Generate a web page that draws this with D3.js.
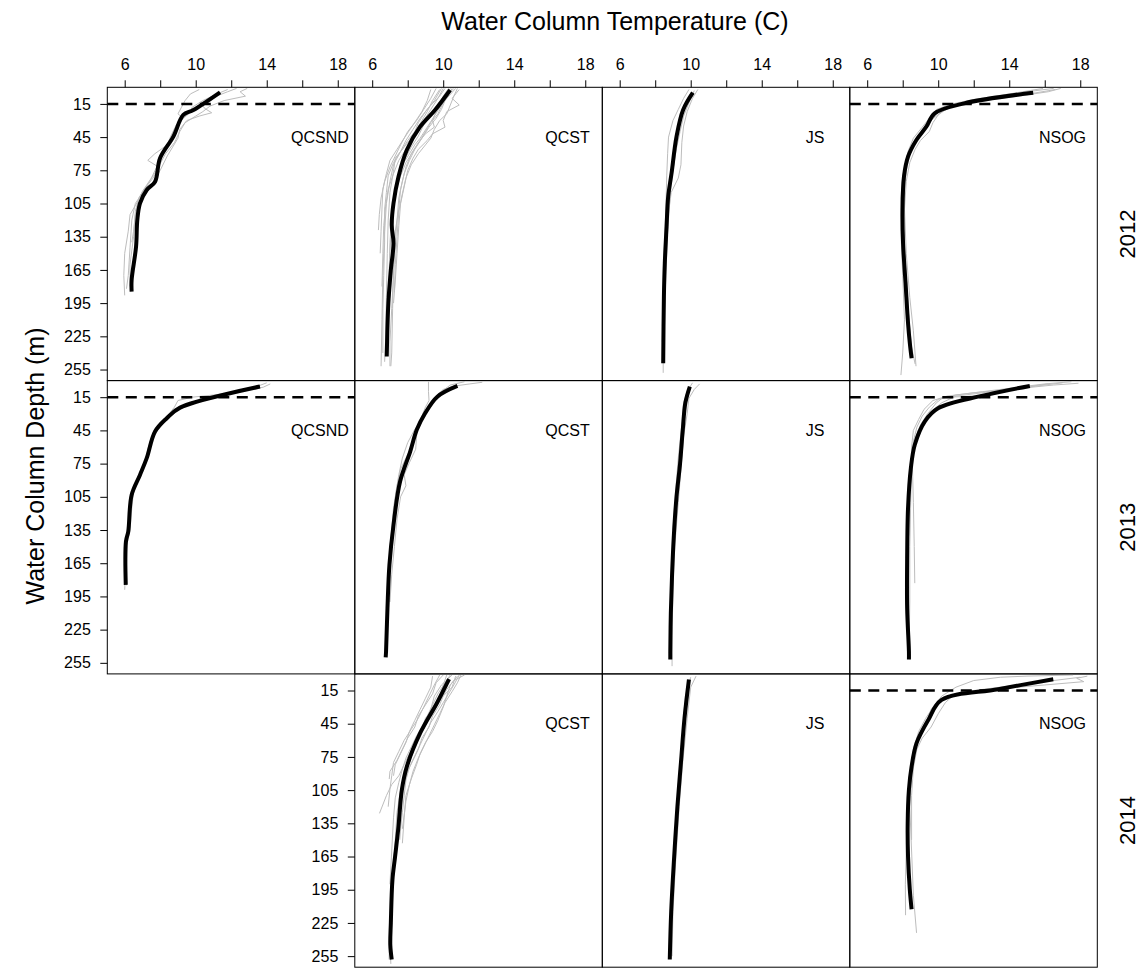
<!DOCTYPE html>
<html>
<head>
<meta charset="utf-8">
<script src="https://cdn.jsdelivr.net/npm/d3@7"></script>
<style>
body { margin: 0; background: #fff; }
svg { display: block; font-family: "Liberation Sans", Arial, Helvetica, sans-serif; }
</style>
</head>
<body>
<script>
var years = ["2012", "2013", "2014"];
var sites = ["QCSND", "QCST", "JS", "NSOG"];
var tempTicks = [6, 8, 10, 12, 14, 16, 18];
var tempLabels = [6, 10, 14, 18];
var depthTicks = [15, 45, 75, 105, 135, 165, 195, 225, 255];
var refDepth = 15;
var refPanels = ["2012 QCSND", "2012 NSOG", "2013 QCSND", "2013 NSOG", "2014 NSOG"];

// [temperature, depth]
var mean2012QCSND = [[11.37, 4.5], [9.87, 20.5], [9.3, 25], [8.74, 44.6], [7.99, 64.1], [7.71, 85.3], [7.24, 92.8], [6.86, 104.8], [6.71, 119.9], [6.64, 144], [6.39, 174.1], [6.39, 184.6]];
var casts2012QCSND = [
  [[12.9, 1], [12.5, 4], [12.8, 8], [11.6, 12], [10.8, 17], [10.4, 22], [10.0, 26], [9.4, 32], [9.1, 40], [8.8, 50], [8.3, 60], [7.9, 72], [7.4, 85], [7.0, 95], [6.6, 105], [6.4, 120], [6.3, 145], [6.2, 170], [6.1, 182]],
  [[10.2, 2], [9.7, 6], [9.4, 12], [9.2, 18], [9.0, 24], [9.3, 28], [8.9, 34], [8.6, 44], [8.4, 52], [7.7, 60], [7.3, 66], [7.9, 72], [7.6, 82], [7.1, 92], [6.8, 100], [6.6, 112], [6.5, 135], [6.3, 160], [6.3, 180]],
  [[12.3, 1], [11.8, 4], [11.0, 9], [10.3, 14], [10.5, 19], [10.9, 23], [10.2, 26], [9.5, 30], [9.1, 38], [9.0, 46], [8.7, 54], [8.4, 62], [8.0, 75], [7.6, 86], [7.2, 96], [6.8, 104], [6.6, 115], [6.5, 130], [6.4, 140]],
  [[11.8, 2], [11.2, 6], [10.4, 12], [9.8, 18], [9.6, 24], [9.0, 32], [8.7, 42], [8.5, 52], [8.1, 62], [7.8, 72], [7.5, 82], [7.0, 94], [6.7, 104], [6.3, 115], [6.2, 130], [6.0, 150], [5.95, 170], [6.0, 188]]
];

var mean2012QCST = [[10.39, 2.4], [9.54, 20.5], [8.7, 35.6], [7.95, 56.6], [7.48, 80.8], [7.2, 104.8], [7.1, 124.4], [7.2, 140.9], [7.05, 165], [6.91, 195], [6.82, 243.3]];
var casts2012QCST = [
  [[10.7, 1], [10.2, 10], [9.6, 22], [9.4, 30], [9.5, 36], [9.0, 42], [8.6, 50], [8.2, 60], [7.9, 72], [7.7, 85], [7.5, 100], [7.4, 120], [7.3, 140], [7.2, 170], [7.1, 200], [7.0, 230], [7.0, 252]],
  [[9.6, 1], [9.3, 10], [8.9, 20], [8.5, 30], [8.0, 40], [7.6, 52], [7.3, 62], [7.0, 72], [6.7, 85], [6.5, 100], [6.4, 115], [6.35, 129]],
  [[10.1, 1], [9.8, 8], [9.2, 18], [8.7, 28], [8.3, 38], [7.9, 48], [7.6, 58], [7.2, 70], [7.0, 85], [6.8, 105], [6.7, 130], [6.6, 170], [6.55, 210], [6.5, 252]],
  [[10.9, 2], [10.5, 10], [10.9, 16], [10.2, 22], [10.0, 30], [10.1, 36], [9.4, 42], [9.1, 48], [8.6, 56], [8.3, 64], [8.0, 75], [7.8, 90], [7.6, 105], [7.5, 125], [7.4, 150], [7.3, 175], [7.2, 195]],
  [[9.9, 1], [9.5, 12], [9.0, 22], [8.6, 32], [8.4, 40], [8.0, 48], [7.7, 56], [7.3, 64], [7.2, 76], [7.0, 95], [6.9, 120], [6.85, 150], [6.8, 190], [6.75, 230], [6.7, 248]],
  [[10.3, 1], [10.0, 8], [9.7, 18], [9.3, 26], [8.9, 34], [8.6, 44], [8.2, 54], [7.8, 66], [7.5, 80], [7.3, 95], [7.2, 112], [7.15, 135], [7.1, 160], [7.0, 190]],
  [[9.3, 2], [9.1, 12], [8.8, 22], [8.3, 34], [7.8, 46], [7.4, 56], [7.0, 66], [6.8, 78], [6.6, 92], [6.55, 110], [6.5, 130], [6.45, 150]],
  [[10.5, 1], [10.1, 12], [9.9, 20], [9.6, 28], [9.2, 36], [8.8, 46], [8.4, 56], [8.1, 66], [7.8, 78], [7.6, 92], [7.5, 110], [7.3, 130], [7.2, 160], [7.15, 200], [7.1, 240], [7.05, 252]],
  [[10.6, 1], [10.3, 6], [10.0, 14], [9.7, 24], [9.3, 32], [9.0, 40], [8.7, 48], [8.3, 58], [7.9, 68], [7.6, 80], [7.3, 95], [7.1, 115], [7.0, 140], [6.95, 170], [6.9, 200], [6.85, 225]],
  [[10.0, 1], [9.7, 10], [9.3, 20], [8.9, 30], [8.6, 38], [8.3, 46], [7.9, 56], [7.5, 66], [7.2, 78], [6.9, 92], [6.75, 108], [6.65, 125], [6.6, 150], [6.55, 180]],
  [[10.8, 1], [10.6, 8], [10.4, 16], [10.2, 24], [9.8, 30], [9.5, 38], [9.3, 46], [9.0, 52], [8.6, 60], [8.2, 70], [7.9, 82], [7.7, 96], [7.5, 112], [7.4, 135], [7.3, 160], [7.25, 185]],
  [[9.8, 2], [9.4, 12], [9.1, 22], [8.8, 30], [8.5, 38], [8.1, 48], [7.6, 58], [7.2, 68], [6.9, 80], [6.8, 95], [6.7, 110], [6.7, 140], [6.65, 170], [6.6, 200], [6.6, 240]],
  [[10.4, 1], [10.2, 6], [9.9, 16], [9.5, 26], [9.1, 36], [8.7, 46], [8.4, 52], [8.1, 60], [7.7, 70], [7.4, 84], [7.2, 100], [7.1, 120], [7.0, 150], [6.95, 180], [6.9, 210]]
];

var mean2012JS = [[10.12, 4.9], [9.57, 20.5], [9.2, 44.6], [8.92, 77.7], [8.73, 98.8], [8.64, 125.9], [8.54, 159], [8.49, 189], [8.45, 249.3]];
var casts2012JS = [
  [[10.4, 2], [10.1, 10], [9.8, 22], [9.6, 35], [9.5, 50], [9.45, 70], [9.3, 82], [8.9, 95], [8.7, 120], [8.6, 160], [8.5, 200], [8.45, 240], [8.45, 258]],
  [[9.9, 2], [9.6, 10], [9.3, 20], [9.0, 30], [8.75, 45], [8.7, 60], [8.65, 80], [8.6, 110], [8.5, 150], [8.45, 190], [8.4, 230]],
  [[10.2, 3], [9.9, 14], [9.6, 26], [9.4, 40], [9.2, 55], [9.0, 75], [8.85, 95], [8.7, 130], [8.6, 170], [8.5, 210], [8.48, 245]]
];

var mean2012NSOG = [[15.35, 4.9], [11.46, 14.5], [9.8, 23.5], [9.33, 35.6], [8.77, 47.6], [8.3, 62.7], [8.07, 80.8], [7.99, 110.8], [8.02, 140.9], [8.16, 177], [8.3, 213], [8.4, 231], [8.5, 244.8]];
var casts2012NSOG = [
  [[16.9, 1], [16.2, 4], [14.5, 8], [12.5, 12], [11.0, 16], [10.2, 22], [9.6, 30], [9.2, 38], [8.8, 46], [8.5, 55], [8.2, 66], [8.0, 80], [7.9, 100], [7.9, 130], [8.0, 170], [8.1, 210], [8.0, 240], [7.9, 260]],
  [[16.6, 2], [15.5, 5], [13.5, 9], [11.8, 13], [10.6, 18], [10.0, 25], [9.7, 32], [9.5, 40], [9.0, 48], [8.7, 56], [8.4, 68], [8.2, 85], [8.1, 110], [8.2, 150], [8.4, 190], [8.6, 220], [8.75, 252]],
  [[15.9, 1], [14.0, 6], [12.0, 11], [10.8, 15], [9.9, 20], [9.5, 28], [9.1, 36], [8.6, 46], [8.3, 58], [8.1, 72], [8.0, 95], [8.05, 130], [8.2, 170], [8.35, 210], [8.5, 240]],
  [[16.5, 1], [15.0, 4], [13.0, 10], [11.5, 14], [10.5, 18], [9.9, 24], [9.4, 32], [9.0, 42], [8.7, 50], [8.4, 60], [8.2, 75], [8.1, 95], [8.05, 125], [8.1, 160], [8.3, 200], [8.5, 235], [8.7, 250]]
];

var mean2013QCSND = [[13.62, 5.4], [9.12, 24.4], [8.37, 34], [7.71, 46], [7.24, 70.1], [6.86, 85.2], [6.39, 103.3], [6.2, 136.4], [6.07, 145.4], [6.06, 184.6]];
var casts2013QCSND = [
  [[14.2, 3], [13.8, 6], [12.5, 10], [11.0, 13], [9.8, 15], [9.0, 18], [8.8, 24], [8.4, 32], [7.9, 42], [7.5, 52], [7.3, 62], [7.2, 72], [6.9, 85], [6.5, 100], [6.4, 115], [6.3, 135], [6.1, 150], [6.05, 170], [6.0, 189]],
  [[14.0, 2], [13.0, 8], [11.5, 14], [10.2, 18], [9.5, 22], [8.9, 28], [8.2, 38], [7.6, 50], [7.3, 65], [7.0, 80], [6.6, 95], [6.35, 108], [6.25, 130], [6.15, 145], [6.1, 165], [6.1, 185]]
];

var mean2013QCST = [[10.8, 4.8], [9.67, 14.5], [8.98, 29.5], [8.51, 44.5], [8.14, 64.1], [7.57, 91.2], [7.2, 130.4], [6.97, 166.5], [6.86, 205.6], [6.78, 244.8], [6.76, 250]];
var casts2013QCST = [
  [[12.2, 1.5], [11.5, 3], [10.6, 5], [10.0, 8], [9.6, 14], [9.3, 20], [9.0, 28], [8.7, 38], [8.4, 48], [8.2, 60], [7.9, 70], [7.6, 80], [7.4, 95], [7.2, 115], [7.1, 135], [7.0, 150]],
  [[9.17, 1], [9.17, 10], [9.2, 18], [9.0, 24], [8.8, 32], [8.6, 40], [8.5, 50], [8.45, 62], [8.1, 74], [7.8, 85], [7.9, 95], [7.6, 105], [7.4, 125], [7.25, 150], [7.1, 175], [7.0, 200]],
  [[11.2, 1], [10.4, 4], [9.9, 10], [9.5, 18], [9.2, 26], [8.9, 34], [8.4, 44], [8.0, 56], [7.7, 70], [7.5, 85], [7.35, 100], [7.2, 120], [7.1, 140]]
];

var mean2013JS = [[9.95, 5.4], [9.7, 20], [9.55, 45], [9.4, 75], [9.2, 105], [9.05, 140], [8.95, 175], [8.88, 210], [8.85, 245], [8.85, 252]];
var casts2013JS = [
  [[10.5, 3], [10.2, 8], [9.9, 16], [9.8, 30], [9.6, 50], [9.45, 80], [9.3, 110], [9.1, 150], [9.0, 190], [8.95, 230], [8.95, 258]],
  [[10.1, 2], [9.8, 10], [9.6, 20], [9.5, 40], [9.3, 70], [9.15, 100], [9.0, 135]]
];

var mean2013NSOG = [[15.16, 4.8], [12.44, 13.8], [9.99, 25], [9.24, 37], [8.68, 58], [8.46, 79], [8.3, 115.3], [8.25, 160.4], [8.25, 205.6], [8.35, 244.8], [8.35, 252]];
var casts2013NSOG = [
  [[17.9, 2.4], [16.5, 4], [14.0, 8], [12.0, 11], [10.5, 14], [9.7, 18], [9.2, 26], [8.9, 35], [8.6, 45], [8.5, 60], [8.55, 80], [8.6, 110], [8.65, 150], [8.68, 183]],
  [[17.0, 2], [15.5, 5], [13.0, 10], [11.0, 14], [10.2, 20], [9.6, 28], [9.1, 38], [8.8, 50], [8.6, 65], [8.4, 90], [8.3, 120], [8.3, 160], [8.35, 200], [8.4, 240], [8.4, 252]],
  [[16.2, 3], [14.8, 6], [13.0, 12], [11.5, 14.5], [10.3, 15], [9.9, 20], [9.4, 30], [9.0, 40], [8.7, 52], [8.5, 70], [8.4, 100], [8.35, 140]],
  [[17.5, 1], [16.0, 3], [14.5, 6], [12.5, 10], [11.0, 13], [10.0, 17], [9.5, 24], [9.1, 32], [8.8, 42], [8.6, 55], [8.5, 75], [8.45, 110], [8.4, 150], [8.4, 200], [8.35, 250]]
];

var mean2014QCST = [[10.33, 4.8], [9.64, 26.5], [8.7, 53.6], [7.95, 83.8], [7.67, 104.8], [7.48, 138], [7.29, 165], [7.14, 186], [7.05, 225], [7.02, 245], [7.1, 258]];
var casts2014QCST = [
  [[11.2, 1], [10.6, 6], [10.2, 14], [9.9, 22], [9.6, 30], [9.2, 40], [8.9, 50], [8.5, 60], [8.1, 72], [7.8, 82], [7.5, 92], [7.1, 100], [6.8, 110], [6.41, 126]],
  [[10.0, 1], [9.6, 8], [9.4, 18], [9.0, 28], [8.6, 38], [8.4, 48], [8.0, 58], [7.7, 68], [7.4, 78], [7.0, 88], [6.96, 95]],
  [[10.8, 2], [10.4, 10], [10.2, 20], [10.0, 30], [9.7, 42], [9.4, 52], [9.0, 62], [8.7, 72], [8.5, 82], [8.2, 95], [7.9, 110], [7.8, 130], [7.7, 153]],
  [[10.5, 1], [9.9, 10], [9.5, 20], [9.3, 32], [9.1, 42], [8.7, 55], [8.3, 65], [8.0, 78], [7.8, 92], [7.6, 105], [7.4, 125], [7.3, 150], [7.2, 175], [7.1, 200], [7.0, 230], [6.95, 258]],
  [[9.4, 2], [9.3, 12], [9.0, 22], [8.7, 32], [8.4, 42], [8.1, 52], [7.9, 62], [7.6, 72], [7.3, 82], [7.2, 92]],
  [[11.0, 1], [10.8, 8], [10.5, 16], [10.1, 26], [9.8, 36], [9.5, 46], [9.2, 56], [8.9, 66], [8.6, 76], [8.3, 88], [8.1, 100], [7.9, 115], [7.7, 140]],
  [[10.2, 1], [10.0, 10], [9.8, 20], [9.5, 30], [9.0, 40], [8.8, 50], [8.5, 60], [8.3, 70], [8.0, 85], [7.7, 100], [7.5, 120], [7.35, 145], [7.2, 170], [7.1, 200], [7.0, 240], [7.05, 262]],
  [[10.4, 1], [10.1, 8], [9.7, 18], [9.4, 28], [9.1, 38], [8.9, 46], [8.5, 56], [8.2, 66], [7.9, 76], [7.7, 86], [7.5, 98], [7.3, 112], [7.2, 130], [7.1, 160], [7.0, 190]],
  [[10.7, 2], [10.5, 12], [10.0, 20], [9.8, 28], [9.4, 38], [9.2, 48], [8.8, 58], [8.6, 68], [8.3, 78], [8.0, 88], [7.8, 98], [7.6, 110], [7.5, 125]],
  [[9.8, 1], [9.5, 10], [9.2, 20], [8.9, 30], [8.6, 40], [8.2, 50], [7.8, 60], [7.5, 70], [7.2, 80], [7.1, 92], [7.0, 104], [6.9, 120]],
  [[10.9, 1], [10.6, 10], [10.3, 18], [10.0, 26], [9.7, 34], [9.3, 44], [9.0, 54], [8.7, 64], [8.4, 74], [8.1, 84], [7.9, 96], [7.8, 110], [7.7, 125], [7.6, 140], [7.55, 150]]
];

var mean2014JS = [[9.9, 5], [9.65, 40], [9.45, 80], [9.25, 120], [9.05, 170], [8.9, 215], [8.82, 258]];
var casts2014JS = [
  [[10.3, 2], [10.0, 12], [9.8, 40], [9.55, 80], [9.35, 120], [9.15, 170], [9.0, 215], [8.95, 255]],
  [[10.0, 3], [9.7, 20], [9.5, 60], [9.3, 100], [9.1, 150], [8.95, 200], [8.85, 240]]
];

var mean2014NSOG = [[16.48, 4.8], [13.38, 13.8], [10.19, 23.5], [9.44, 41.6], [8.78, 62.6], [8.5, 83.8], [8.35, 104.8], [8.28, 135], [8.3, 165], [8.4, 195], [8.5, 212.7]];
var casts2014NSOG = [
  [[18.4, 2], [17.8, 4], [18.2, 7], [16.0, 10], [13.0, 14], [11.0, 18], [10.0, 24], [9.6, 32], [9.4, 42], [8.9, 55], [8.7, 70], [8.5, 90], [8.4, 120], [8.5, 160], [8.6, 200], [8.78, 234]],
  [[17.6, 1], [15.0, 2], [13.5, 3], [12.0, 6], [11.0, 12], [10.2, 20], [9.8, 28], [9.3, 40], [8.9, 52], [8.6, 68], [8.4, 90], [8.3, 120], [8.2, 160], [8.15, 190], [8.16, 218]],
  [[18.0, 3], [16.5, 6], [14.5, 10], [12.0, 15], [10.8, 20], [10.4, 26], [10.0, 36], [9.6, 48], [9.1, 58], [8.8, 68], [8.6, 85], [8.5, 110], [8.5, 150]]
];

var panels = [
  { year: "2012", site: "QCSND", mean: mean2012QCSND, casts: casts2012QCSND },
  { year: "2012", site: "QCST", mean: mean2012QCST, casts: casts2012QCST },
  { year: "2012", site: "JS", mean: mean2012JS, casts: casts2012JS },
  { year: "2012", site: "NSOG", mean: mean2012NSOG, casts: casts2012NSOG },
  { year: "2013", site: "QCSND", mean: mean2013QCSND, casts: casts2013QCSND },
  { year: "2013", site: "QCST", mean: mean2013QCST, casts: casts2013QCST },
  { year: "2013", site: "JS", mean: mean2013JS, casts: casts2013JS },
  { year: "2013", site: "NSOG", mean: mean2013NSOG, casts: casts2013NSOG },
  { year: "2014", site: "QCST", mean: mean2014QCST, casts: casts2014QCST },
  { year: "2014", site: "JS", mean: mean2014JS, casts: casts2014JS },
  { year: "2014", site: "NSOG", mean: mean2014NSOG, casts: casts2014NSOG }
];

var W = 1143, H = 968;
var left0 = 107.3, top0 = 87.3, pw = 247.5, ph = 293.3;

var x = d3.scaleLinear().domain([5.02, 18.96]).range([0, pw]);
var y = d3.scaleLinear().domain([0, 265]).range([0, ph]);
var line = d3.line()
  .x(function (d) { return x(d[0]); })
  .y(function (d) { return y(d[1]); });
var smooth = d3.line()
  .curve(d3.curveCatmullRom.alpha(0.5))
  .x(function (d) { return x(d[0]); })
  .y(function (d) { return y(d[1]); });

var svg = d3.select("body").append("svg").attr("width", W).attr("height", H);

svg.append("text")
  .attr("x", 615).attr("y", 30)
  .attr("text-anchor", "middle")
  .style("font-size", "25px")
  .text("Water Column Temperature (C)");

svg.append("text")
  .attr("transform", "translate(35," + 466 + ") rotate(-90)")
  .attr("text-anchor", "middle")
  .attr("dominant-baseline", "central")
  .style("font-size", "25px")
  .text("Water Column Depth (m)");

years.forEach(function (yr, r) {
  svg.append("text")
    .attr("transform", "translate(1127," + (top0 + r * ph + ph / 2) + ") rotate(-90)")
    .attr("text-anchor", "middle")
    .attr("dominant-baseline", "central")
    .style("font-size", "22px")
    .text(yr);
});

function styleAxis(g) {
  g.select(".domain").remove();
  g.selectAll("line").attr("stroke", "#000");
  g.selectAll("text").attr("fill", "#000").style("font-size", "16px")
    .style("font-family", '"Liberation Sans", Arial, Helvetica, sans-serif');
}

panels.forEach(function (p) {
  var r = years.indexOf(p.year), c = sites.indexOf(p.site);
  var g = svg.append("g")
    .attr("transform", "translate(" + (left0 + c * pw) + "," + (top0 + r * ph) + ")");

  g.selectAll(".cast")
    .data(p.casts)
    .enter()
    .append("path")
    .attr("class", "cast")
    .attr("d", line)
    .attr("fill", "none")
    .attr("stroke", "#bdbdbd")
    .attr("stroke-width", 1);

  if (refPanels.indexOf(p.year + " " + p.site) >= 0) {
    g.append("line")
      .attr("x1", 0).attr("x2", pw)
      .attr("y1", y(refDepth)).attr("y2", y(refDepth))
      .attr("stroke", "#000")
      .attr("stroke-width", 2.5)
      .attr("stroke-dasharray", "11,7.5");
  }

  g.append("path")
    .datum(p.mean)
    .attr("d", smooth)
    .attr("fill", "none")
    .attr("stroke", "#000")
    .attr("stroke-width", 4)
    .attr("stroke-linejoin", "round");

  g.append("text")
    .attr("x", x(17)).attr("y", y(45))
    .attr("text-anchor", "middle")
    .attr("dominant-baseline", "central")
    .style("font-size", "16px")
    .text(p.site);

  g.append("rect")
    .attr("width", pw).attr("height", ph)
    .attr("fill", "none")
    .attr("stroke", "#000")
    .attr("stroke-width", 1);

  if (r == 0) {
    g.append("g")
      .call(d3.axisTop(x).tickValues(tempTicks).tickSize(7).tickPadding(10)
        .tickFormat(function (d) { return tempLabels.indexOf(d) >= 0 ? d : ""; }))
      .call(styleAxis);
  }
  if ((r < 2 && c == 0) || (r == 2 && c == 1)) {
    g.append("g")
      .call(d3.axisLeft(y).tickValues(depthTicks).tickSize(7).tickPadding(9.5))
      .call(styleAxis);
  }
});
</script>
</body>
</html>
